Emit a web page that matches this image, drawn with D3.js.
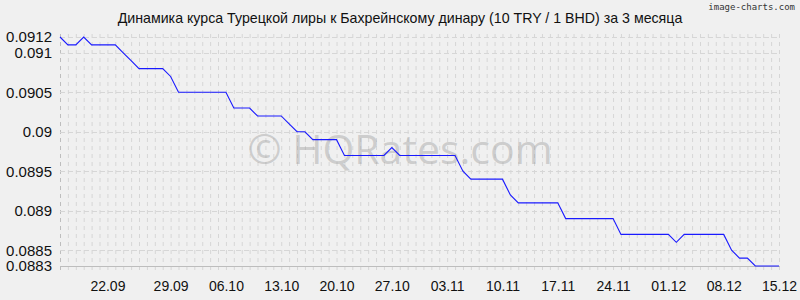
<!DOCTYPE html>
<html>
<head>
<meta charset="utf-8">
<script src="https://cdn.jsdelivr.net/npm/d3@7"></script>
<style>
  html, body { margin: 0; padding: 0; background: #f0f0f0; overflow: hidden; }
  svg { display: block; }
</style>
</head>
<body>
<svg id="chart" width="800" height="300"></svg>
<script>
"use strict";

// Курс 10 TRY / 1 BHD, по одной точке на день
const rates = [
  0.0912, 0.0911, 0.0911, 0.0912, 0.0911, 0.0911, 0.0911, 0.0911, 0.0910, 0.0909,
  0.0908, 0.0908, 0.0908, 0.0908, 0.0907, 0.0905, 0.0905, 0.0905, 0.0905, 0.0905,
  0.0905, 0.0905, 0.0903, 0.0903, 0.0903, 0.0902, 0.0902, 0.0902, 0.0902, 0.0901,
  0.0900, 0.0900, 0.0899, 0.0899, 0.0899, 0.0899, 0.0897, 0.0897, 0.0897, 0.0897,
  0.0897, 0.0897, 0.0898, 0.0897, 0.0897, 0.0897, 0.0897, 0.0897, 0.0897, 0.0897,
  0.0897, 0.0895, 0.0894, 0.0894, 0.0894, 0.0894, 0.0894, 0.0892, 0.0891, 0.0891,
  0.0891, 0.0891, 0.0891, 0.0891, 0.0889, 0.0889, 0.0889, 0.0889, 0.0889, 0.0889,
  0.0889, 0.0887, 0.0887, 0.0887, 0.0887, 0.0887, 0.0887, 0.0887, 0.0886, 0.0887,
  0.0887, 0.0887, 0.0887, 0.0887, 0.0887, 0.0885, 0.0884, 0.0884, 0.0883, 0.0883,
  0.0883, 0.0883
];

// подписи дат и номер точки, под которой они стоят
const dateLabels = ["22.09", "29.09", "06.10", "13.10", "20.10", "27.10", "03.11",
                    "10.11", "17.11", "24.11", "01.12", "08.12", "15.12"];
const dateIndex = [6, 14, 21, 28, 35, 42, 49, 56, 63, 70, 77, 84, 91];

const yTicks = [0.0912, 0.091, 0.0905, 0.09, 0.0895, 0.089, 0.0885, 0.0883];

const TITLE = "Динамика курса Турецкой лиры к Бахрейнскому динару (10 TRY / 1 BHD) за 3 месяца";

const LEFT = 60, RIGHT = 779, TOP = 37, BOTTOM = 266;

const svg = d3.select("#chart");

const x = d3.scaleLinear().domain([0, rates.length - 1]).range([LEFT, RIGHT]);
const y = d3.scaleLinear().domain([0.0883, 0.0912]).range([BOTTOM, TOP]);

svg.append("rect").attr("width", 800).attr("height", 300).attr("fill", "#f0f0f0");

// вертикальная сетка, по дням
svg.append("g")
  .selectAll("line")
  .data(d3.range(rates.length))
  .join("line")
  .attr("x1", d => x(d) + 0.5)
  .attr("x2", d => x(d) + 0.5)
  .attr("y1", TOP - 3)
  .attr("y2", BOTTOM + 8)
  .attr("stroke", d => d === 0 ? "#bdbdbd" : "#d6d6d6")
  .attr("stroke-dasharray", "4,4");

// горизонтальная сетка
svg.append("g")
  .selectAll("line")
  .data(yTicks.slice(0, -1))
  .join("line")
  .attr("x1", LEFT)
  .attr("x2", RIGHT + 1)
  .attr("y1", d => Math.round(y(d)) + 0.5)
  .attr("y2", d => Math.round(y(d)) + 0.5)
  .attr("stroke", "#d6d6d6")
  .attr("stroke-dasharray", "5,3");

svg.append("line")
  .attr("x1", LEFT).attr("x2", RIGHT + 1)
  .attr("y1", BOTTOM + 0.5).attr("y2", BOTTOM + 0.5)
  .attr("stroke", "#bdbdbd");

// водяной знак
svg.append("text")
  .attr("x", 400).attr("y", 164)
  .attr("text-anchor", "middle")
  .attr("font-family", "'Open Sans', 'DejaVu Sans', sans-serif")
  .attr("font-size", 41)
  .attr("fill", "#a0a0a0")
  .attr("fill-opacity", 0.45)
  .text("© HQRates.com");

// ось Y
const yAxis = d3.axisLeft(y).tickValues(yTicks).tickSize(0).tickPadding(0)
  .tickFormat(d => String(+d.toFixed(4)));
svg.append("g")
  .attr("transform", `translate(${LEFT - 8},0)`)
  .call(yAxis)
  .call(g => g.select(".domain").remove())
  .call(g => g.selectAll("text")
    .attr("font-family", "'Liberation Sans', Arial, sans-serif")
    .attr("font-size", 15)
    .attr("fill", "#111"));

// ось X
const xAxis = d3.axisBottom(x).tickValues(dateIndex).tickSize(0).tickPadding(0)
  .tickFormat((d, i) => dateLabels[i]);
svg.append("g")
  .attr("transform", `translate(0,${BOTTOM + 15})`)
  .call(xAxis)
  .call(g => g.select(".domain").remove())
  .call(g => g.selectAll("text")
    .attr("font-family", "'Liberation Sans', Arial, sans-serif")
    .attr("font-size", 14)
    .attr("fill", "#111"));

// линия курса
svg.append("path")
  .datum(rates)
  .attr("fill", "none")
  .attr("stroke", "#1a1aff")
  .attr("stroke-width", 1.1)
  .attr("d", d3.line().x((d, i) => x(i)).y(d => y(d)));

// заголовок
svg.append("text")
  .attr("x", 400).attr("y", 23)
  .attr("text-anchor", "middle")
  .attr("font-family", "'Liberation Sans', Arial, sans-serif")
  .attr("font-size", 14.2)
  .attr("fill", "#111")
  .text(TITLE);

svg.append("text")
  .attr("x", 795).attr("y", 10)
  .attr("text-anchor", "end")
  .attr("font-family", "'DejaVu Sans Mono', monospace")
  .attr("font-size", 9)
  .attr("fill", "#333")
  .text("image-charts.com");
</script>
</body>
</html>
